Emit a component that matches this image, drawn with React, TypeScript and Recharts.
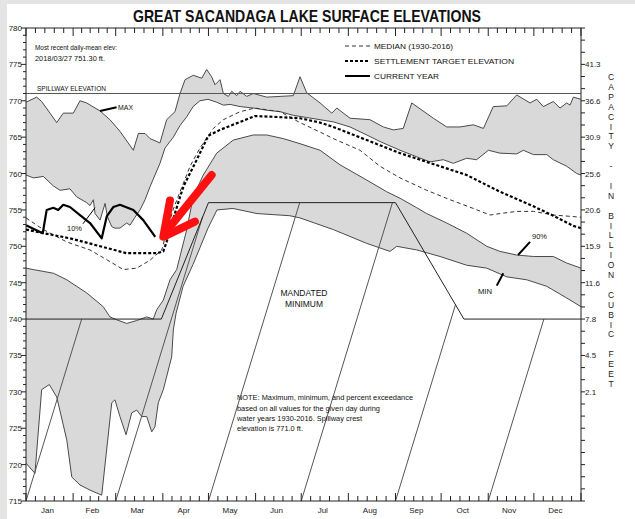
import React from 'react';
import { ComposedChart, Area, Line, XAxis, YAxis } from 'recharts';

const W = 635;
const H = 519;
const FONT = '"Liberation Sans", Arial, sans-serif';

// day of year (0 = Jan 1) and lake elevation in feet
const maxDays = [0, 7, 10.3, 15.8, 20.2, 24.5, 31.1, 35.5, 39.9, 48.7, 55.2, 61.8, 70.6, 73.9, 78.3, 81.6, 88.1, 92.5, 98, 101.3, 104.6, 110, 115.6, 118.8, 122.1, 124.3, 127.6, 129.8, 133.1, 135.3, 138.6, 140.8, 145.2, 149.5, 158.3, 167.1, 175.8, 180.2, 184.6, 193.4, 201.1, 204.4, 213.1, 226.2, 235, 241.6, 248.1, 253.7, 267.9, 276.7, 285.4, 294.2, 300.8, 307.3, 316.2, 322.7, 331.5, 335.9, 340.2, 346.8, 351.2, 355.6, 357.8, 360, 365];
const maxElev = [769.8, 770.5, 769.9, 768.3, 767.0, 768.3, 768.3, 770.0, 769.7, 768.6, 767.4, 765.8, 763.2, 765.5, 765.5, 764.8, 764.2, 767.4, 768.5, 771.0, 772.9, 773.5, 773.1, 774.3, 773.3, 772.2, 772.9, 771.0, 770.6, 771.3, 770.7, 771.3, 770.6, 771.0, 770.5, 770.6, 770.7, 773.3, 771.1, 769.7, 768.3, 769.0, 767.6, 767.4, 766.4, 766.0, 766.2, 769.7, 767.6, 766.4, 766.4, 766.7, 766.2, 769.2, 769.3, 770.8, 769.7, 770.2, 769.2, 769.9, 769.0, 769.7, 769.4, 770.5, 770.2];

const p10Days = [0, 4.8, 11.4, 18, 22.4, 28.9, 33.3, 39.9, 42.1, 44.3, 45.4, 48.7, 52, 53.5, 56.4, 58.5, 61.8, 66.2, 68.4, 71.7, 75, 78.3, 81.6, 88.1, 91.4, 96.9, 101.3, 105.7, 109.9, 114.4, 119.7, 125.4, 129.8, 134.2, 140.8, 149.5, 158.3, 167.1, 175.8, 184.6, 193.4, 202.1, 213.1, 224.1, 232.8, 246, 257, 265.7, 274.4, 281, 289.8, 296.4, 304.1, 311.7, 322.7, 327.1, 333.7, 342.5, 346.8, 355.6, 362.2, 365];
const p10Elev = [759.8, 759.4, 759.6, 758.3, 757.7, 757.9, 756.8, 756.0, 755.6, 756.4, 754.5, 753.6, 755.9, 754.1, 752.7, 752.5, 752.5, 753.2, 752.9, 754.0, 755.0, 756.4, 758.2, 761.4, 763.5, 765.0, 766.6, 767.8, 769.2, 770.0, 770.2, 769.8, 769.4, 769.5, 769.2, 769.0, 768.7, 768.5, 768.0, 767.7, 767.4, 767.1, 766.4, 765.3, 764.4, 763.2, 762.3, 761.6, 761.9, 761.4, 762.1, 761.9, 763.2, 762.8, 762.7, 763.2, 762.6, 762.6, 761.9, 761.0, 760.0, 759.8];

const p90Days = [0, 4.8, 18, 26.8, 39.9, 50.8, 55.2, 59.7, 66.2, 72.8, 79.4, 83.7, 86, 90.3, 94.7, 99.1, 105.7, 110, 116.6, 125.4, 136.3, 149.5, 158.3, 169.2, 180.2, 193.4, 206.5, 224.1, 237.2, 246, 257, 263.5, 276.7, 289.8, 303, 311.7, 322.7, 333.7, 346.8, 355.6, 365];
const p90Elev = [747.0, 746.8, 746.3, 745.4, 743.6, 741.7, 740.3, 739.9, 739.4, 739.8, 740.3, 740.0, 741.3, 742.6, 745.4, 746.8, 752.3, 756.8, 759.8, 762.8, 764.6, 765.3, 765.3, 764.8, 764.1, 763.2, 761.2, 759.1, 757.5, 756.6, 755.3, 754.5, 753.2, 751.8, 750.0, 749.3, 748.8, 748.6, 748.6, 747.7, 747.0];

const minDays = [0, 5.9, 10.3, 15.3, 20.2, 26.8, 30.1, 35.5, 42.1, 49.8, 56.4, 58.5, 61.8, 65.8, 69.5, 72.8, 76.1, 79.4, 82.7, 84.8, 87, 90.3, 93.6, 95.8, 96.9, 98.7, 103.3, 109.8, 114.4, 119.7, 125.6, 136.1, 151.9, 173.6, 180.2, 202.1, 224.1, 239.4, 243.8, 257, 272.3, 289.8, 303, 316.2, 329.3, 342.5, 355.6, 365];
const minElev = [720.2, 718.8, 730.3, 731.0, 729.3, 723.4, 718.3, 717.2, 716.5, 715.8, 728.5, 728.9, 726.6, 724.1, 727.1, 727.5, 726.6, 726.6, 724.5, 725.2, 728.5, 730.3, 733.0, 734.8, 738.5, 740.8, 744.5, 747.5, 749.8, 752.5, 755.0, 755.2, 754.5, 754.2, 753.9, 752.3, 750.4, 749.3, 750.0, 749.5, 748.6, 747.4, 747.0, 745.8, 745.4, 744.5, 742.9, 741.7];

const medianDays = [0, 11.4, 26.8, 42.1, 55.2, 64, 72.8, 81.6, 89.3, 92.5, 96.7, 101.3, 107.9, 114.4, 123.2, 129.8, 140.8, 150.6, 167.1, 180.2, 193.4, 202.1, 219.7, 232.8, 246, 263.5, 278.9, 294.2, 305.2, 311.7, 322.7, 333.7, 346.8, 365];
const medianElev = [753.9, 752.3, 750.6, 749.5, 747.9, 746.8, 747.0, 748.1, 749.5, 752.0, 755.0, 757.5, 761.0, 763.5, 766.2, 767.4, 768.5, 769.0, 768.5, 767.0, 765.7, 764.8, 763.2, 761.0, 759.4, 757.7, 756.4, 755.2, 754.3, 754.5, 754.8, 754.8, 754.3, 754.0];

const targetDays = [0, 9.2, 28.9, 50.8, 66.2, 86, 90.3, 93.6, 94.7, 101.3, 103.5, 112.3, 119.9, 127.6, 150.6, 162.6, 180.2, 193.4, 202.1, 224.1, 246, 272.3, 289.8, 311.7, 333.7, 346.8, 360, 365];
const targetElev = [752.3, 751.9, 751.1, 749.9, 749.05, 749.05, 749.3, 751.3, 752.3, 756.8, 758.2, 761.9, 765.2, 766.0, 767.9, 767.8, 767.6, 767.0, 766.4, 764.6, 762.8, 761.0, 759.8, 757.5, 755.5, 754.2, 752.8, 752.5];

// 2018 to date, last reading 2018/03/27 751.30 ft
const currentDays = [0, 11, 13.6, 18, 21.2, 24.5, 28.9, 35.5, 42.1, 49.8, 53.1, 57.4, 61.8, 70.6, 77.1, 85];
const currentElev = [752.9, 751.8, 755.0, 755.3, 755.0, 755.7, 755.4, 754.3, 753.2, 751.1, 754.1, 755.4, 755.7, 755.0, 753.6, 751.3];

const mandatedDays = [0, 89, 120, 243, 288, 365];
const mandatedElev = [740, 740, 756, 756, 740, 740];

const spillway = 771;

// hatching under the mandated minimum: each stroke rises from the bottom to the boundary
const hatchStart = [0, 59, 120, 181, 243, 304];
const hatchEndDay = [36.6, 116.2, 180, 241, 282.5, 340.6];
const hatchEndElev = [740, 754.1, 756, 756, 742, 740];

const monthStarts = [0, 31, 59, 90, 120, 151, 181, 212, 243, 273, 304, 334, 365];
const monthNames = ['Jan', 'Feb', 'Mar', 'Apr', 'May', 'Jun', 'Jul', 'Aug', 'Sep', 'Oct', 'Nov', 'Dec'];

const capElev = [775, 770, 765, 760, 755, 750, 745, 740, 735, 730];
const capLabels = ['41.3', '36.6', '30.9', '25.6', '20.6', '15.9', '11.6', '7.8', '4.5', '2.1'];

const pts = (days: number[], vals: number[]) => days.map((d, i) => ({ d, v: vals[i] }));

const majorSet = new Set(monthStarts);
const labelMap = new Map<number, string>();
const xTicks: number[] = [];
monthNames.forEach((m, i) => {
  const a = monthStarts[i];
  const b = monthStarts[i + 1];
  xTicks.push(a);
  for (let k = 1; k < 5; k++) xTicks.push(a + ((b - a) * k) / 5);
  const mid = (a + b) / 2;
  labelMap.set(mid, m);
  xTicks.push(mid);
});
xTicks.push(365);

const yTicks: number[] = [];
for (let e = 715; e <= 780; e++) yTicks.push(e);

const rTicks: number[] = [];
for (let k = 0; k <= 39; k++) rTicks.push(715 + (k * 5) / 3);

const BottomTick = (props: any) => {
  const { x, y, payload } = props;
  const v = payload.value;
  if (labelMap.has(v)) {
    return (
      <text x={x - 2} y={y + 12} textAnchor="middle" fontSize={8} fontFamily={FONT} fill="#222">
        {labelMap.get(v)}
      </text>
    );
  }
  const len = majorSet.has(v) ? 8 : 5;
  return <line x1={x} x2={x} y1={y} y2={y - len} stroke="#222" strokeWidth={1} />;
};

const TopTick = (props: any) => {
  const { x, y, payload } = props;
  const v = payload.value;
  if (labelMap.has(v)) return <g />;
  const len = majorSet.has(v) ? 8 : 5;
  return <line x1={x} x2={x} y1={y} y2={y + len} stroke="#222" strokeWidth={1} />;
};

const LeftTick = (props: any) => {
  const { x, y, payload } = props;
  const v = payload.value;
  if (v % 5 === 0) {
    return (
      <g>
        <line x1={x} x2={x - 5} y1={y} y2={y} stroke="#222" />
        <text x={x - 4} y={y + 3} textAnchor="end" fontSize={8} fontFamily={FONT} fill="#222">
          {v}
        </text>
      </g>
    );
  }
  return <line x1={x} x2={x - 3} y1={y} y2={y} stroke="#222" />;
};

const RightTick = (props: any) => {
  const { x, y, payload } = props;
  const v = payload.value;
  const i = capElev.findIndex((e) => Math.abs(e - v) < 0.01);
  return (
    <g>
      <line x1={x} x2={x + 4} y1={y} y2={y} stroke="#222" />
      {i >= 0 && (
        <text x={x + 4} y={y + 3} fontSize={8} fontFamily={FONT} fill="#222">
          {capLabels[i]}
        </text>
      )}
    </g>
  );
};

const GRAY = '#d9d9d9';
const EDGE = '#4a4a4a';

const band = (key: string, data: any[], fill: string) => (
  <Area
    key={key}
    xAxisId="b"
    yAxisId="l"
    data={data}
    dataKey="v"
    type="linear"
    baseValue="dataMin"
    fill={fill}
    fillOpacity={1}
    stroke={EDGE}
    strokeWidth={1}
    dot={false}
    activeDot={false}
    isAnimationActive={false}
  />
);

const seg = (key: string, data: any[], stroke: string, width: number, dash?: string, cap?: string) => (
  <Line
    key={key}
    xAxisId="b"
    yAxisId="l"
    data={data}
    dataKey="v"
    type="linear"
    stroke={stroke}
    strokeWidth={width}
    strokeDasharray={dash}
    strokeLinecap={cap as any}
    strokeLinejoin="round"
    dot={false}
    activeDot={false}
    isAnimationActive={false}
  />
);

const T = ({ x, y, w, size = 7.5, anchor = 'start', weight = 'normal', children }: any) => (
  <text
    x={x}
    y={y}
    fontSize={size}
    fontFamily={FONT}
    fontWeight={weight}
    textAnchor={anchor}
    fill="#111"
    textLength={w}
    lengthAdjust={w ? 'spacingAndGlyphs' : undefined}
  >
    {children}
  </text>
);

const sideTitle = 'CAPACITY - IN BILLION CUBIC FEET'.split('');

export default function App() {
  return (
    <div style={{ position: 'absolute', left: 0, top: 0, width: W, height: H, background: '#e4e4e4' }}>
      <div style={{ position: 'absolute', left: 7, top: 4, width: W - 7, height: H - 4, background: '#fff' }} />
      <div style={{ position: 'absolute', left: 0, top: 0 }}>
        <ComposedChart width={W} height={H} margin={{ top: 0, right: 0, bottom: 0, left: 0 }}>
          <XAxis
            xAxisId="b"
            type="number"
            dataKey="d"
            domain={[0, 365]}
            ticks={xTicks}
            interval={0}
            tick={<BottomTick />}
            tickLine={false}
            tickSize={0}
            tickMargin={0}
            height={18}
            axisLine={{ stroke: '#222' }}
            allowDataOverflow
          />
          <XAxis
            xAxisId="t"
            orientation="top"
            type="number"
            dataKey="d"
            domain={[0, 365]}
            ticks={xTicks}
            interval={0}
            tick={<TopTick />}
            tickLine={false}
            tickSize={0}
            tickMargin={0}
            height={28}
            axisLine={{ stroke: '#222' }}
            allowDataOverflow
          />
          <YAxis
            yAxisId="l"
            type="number"
            domain={[715, 780]}
            ticks={yTicks}
            interval={0}
            tick={<LeftTick />}
            tickLine={false}
            tickSize={0}
            tickMargin={0}
            width={26}
            axisLine={{ stroke: '#222' }}
            allowDataOverflow
          />
          <YAxis
            yAxisId="r"
            orientation="right"
            type="number"
            domain={[715, 780]}
            ticks={rTicks}
            interval={0}
            tick={<RightTick />}
            tickLine={false}
            tickSize={0}
            tickMargin={0}
            width={54}
            axisLine={{ stroke: '#222' }}
            allowDataOverflow
          />

          {band('max', pts(maxDays, maxElev), GRAY)}
          {band('p10', pts(p10Days, p10Elev), '#fff')}
          {band('p90', pts(p90Days, p90Elev), GRAY)}
          {band('min', pts(minDays, minElev), '#fff')}

          {hatchStart.map((d, i) =>
            seg('h' + i, [{ d, v: 715 }, { d: hatchEndDay[i], v: hatchEndElev[i] }], '#555', 1)
          )}
          {seg('mandated', pts(mandatedDays, mandatedElev), '#222', 1)}

          <Line
            xAxisId="t"
            yAxisId="r"
            data={[{ d: 0, v: spillway }, { d: 365, v: spillway }]}
            dataKey="v"
            stroke="#555"
            strokeWidth={1}
            dot={false}
            activeDot={false}
            isAnimationActive={false}
          />

          {seg('median', pts(medianDays, medianElev), '#333', 1, '4 3')}
          {seg('target', pts(targetDays, targetElev), '#000', 2.2, '3 2')}
          {seg('current', pts(currentDays, currentElev), '#000', 2.2)}

          {/* leaders for the envelope labels */}
          {seg('lmax', [{ d: 48.7, v: 768.6 }, { d: 59.6, v: 769.1 }], '#000', 2)}
          {seg('l10', [{ d: 37.5, v: 753.1 }, { d: 45.4, v: 755.3 }], '#000', 1)}
          {seg('l90', [{ d: 323.6, v: 748.8 }, { d: 331.5, v: 750.6 }], '#000', 2)}
          {seg('lmin', [{ d: 309.6, v: 744.6 }, { d: 313.9, v: 746.3 }], '#000', 2)}

          {/* red pointer at the latest reading */}
          {seg('arrowShaft', [{ d: 122.1, v: 759.8 }, { d: 92, v: 752 }], '#ff1010', 8, undefined, 'round')}
          {seg('arrowHead', [{ d: 94.7, v: 756.3 }, { d: 90.3, v: 751.3 }, { d: 111.1, v: 753.4 }], '#ff1010', 8, undefined, 'round')}
        </ComposedChart>
      </div>

      <svg width={W} height={H} style={{ position: 'absolute', left: 0, top: 0, pointerEvents: 'none' }}>
        <T x={307} y={22} w={348} size={17} anchor="middle" weight="bold">
          GREAT SACANDAGA LAKE SURFACE ELEVATIONS
        </T>

        <T x={35} y={50} w={82}>Most recent daily-mean elev:</T>
        <T x={35} y={61} w={70}>2018/03/27 751.30 ft.</T>
        <T x={37} y={91} w={69} size={7}>SPILLWAY ELEVATION</T>

        <line x1={345} x2={370} y1={46} y2={46} stroke="#333" strokeWidth={1} strokeDasharray="4 3" />
        <line x1={345} x2={370} y1={61} y2={61} stroke="#000" strokeWidth={2} strokeDasharray="3 2" />
        <line x1={345} x2={370} y1={76} y2={76} stroke="#000" strokeWidth={2} />
        <T x={374} y={49} w={79} size={8}>MEDIAN (1930-2016)</T>
        <T x={374} y={64} w={140} size={8}>SETTLEMENT TARGET ELEVATION</T>
        <T x={374} y={79} w={65} size={8}>CURRENT YEAR</T>

        <T x={118} y={110} w={15} size={8}>MAX</T>
        <T x={67} y={231} w={15} size={7.5}>10%</T>
        <T x={532} y={239} w={15} size={7.5}>90%</T>
        <T x={478} y={294} w={14} size={7.5}>MIN</T>
        <T x={304} y={296} w={47} size={8.5} anchor="middle">MANDATED</T>
        <T x={304} y={307} w={38} size={8.5} anchor="middle">MINIMUM</T>

        <T x={237} y={400} w={176}>NOTE: Maximum, minimum, and percent exceedance</T>
        <T x={237} y={411} w={143}>based on all values for the given day during</T>
        <T x={237} y={421} w={125}>water years 1930-2016. Spillway crest</T>
        <T x={237} y={431} w={66}>elevation is 771.0 ft.</T>

        {sideTitle.map((c, i) =>
          c === ' ' ? null : (
            <text key={i} x={611} y={80 + i * 9.9} fontSize={8.5} fontFamily={FONT} textAnchor="middle" fill="#222">
              {c}
            </text>
          )
        )}
      </svg>
    </div>
  );
}
